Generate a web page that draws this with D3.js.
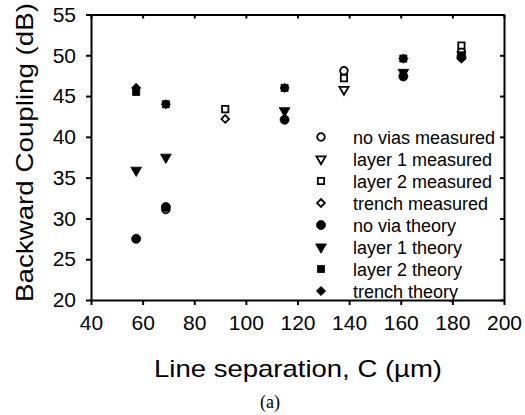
<!DOCTYPE html>
<html>
<head>
<meta charset="utf-8">
<script src="https://cdn.jsdelivr.net/npm/d3@7"></script>
<style>
  body { margin: 0; background: #fff; }
  text { font-family: "Liberation Sans", Arial, sans-serif; fill: #000; }
</style>
</head>
<body>
<div id="chart"></div>
<script>
// Define the layout of the SVG
const DIMENSIONS = {
  width: 525,
  height: 415,
  margin: {top: 14.5, right: 21, bottom: 115, left: 91}
}

// Axis ticks
const xTicks = [40, 60, 80, 100, 120, 140, 160, 180, 200];
const yTicks = [20, 25, 30, 35, 40, 45, 50, 55];

// Series values: [line separation (um), backward coupling (dB)]
const noViasMeasured = [[69, 31.1], [138, 48.1], [183.5, 50.4]];
const layer1Measured = [[138, 45.8]];
const layer2Measured = [[92, 43.4], [138, 47.2], [183.5, 51.2]];
const trenchMeasured = [[92, 42.2]];
const noViaTheory = [[57.5, 27.5], [69, 31.4], [115, 42.1], [161, 47.4], [183.5, 49.8]];
const layer1Theory = [[57.5, 35.9], [69, 37.5], [115, 43.2], [161, 47.9]];
const layer2Theory = [[57.5, 45.5], [69, 44.0], [115, 46.0], [161, 49.6], [183.5, 50.0]];
const trenchTheory = [[57.5, 46.0], [69, 44.0], [115, 46.0], [161, 49.6], [183.5, 49.6]];

// Legend labels, in legend order
const seriesNames = [
  "no vias measured", "layer 1 measured", "layer 2 measured", "trench measured",
  "no via theory", "layer 1 theory", "layer 2 theory", "trench theory"
];
const seriesData = [
  noViasMeasured, layer1Measured, layer2Measured, trenchMeasured,
  noViaTheory, layer1Theory, layer2Theory, trenchTheory
];

// marker shapes per series (circle, down triangle, square, diamond), open then filled
const shapes = ["circle", "triangle", "square", "diamond", "circle", "triangle", "square", "diamond"];

const symbolFor = (shape, open) => {
  if (shape === "circle") return {path: d3.symbol(d3.symbolCircle, open ? 46 : 64)(), rot: 0};
  if (shape === "triangle") return {path: d3.symbol(d3.symbolTriangle, open ? 36 : 50)(), rot: 180};
  if (shape === "square") return {path: d3.symbol(d3.symbolSquare, open ? 40 : 50)(), rot: 0};
  return {path: d3.symbol(d3.symbolSquare, open ? 30 : 42)(), rot: 45};
}

const W = DIMENSIONS.width, H = DIMENSIONS.height, M = DIMENSIONS.margin;
const plotRight = W - M.right;
const plotBottom = H - M.bottom;

const svg = d3.select("#chart")
  .append("svg")
  .attr("width", W)
  .attr("height", H);

const x = d3.scaleLinear()
  .domain([40, 200])
  .range([M.left, plotRight]);

const y = d3.scaleLinear()
  .domain([20, 55])
  .range([plotBottom, M.top]);

// top and right frame with inward ticks
svg.append("g")
  .attr("transform", `translate(0,${M.top})`)
  .call(d3.axisTop(x).tickValues(xTicks).tickSize(-4).tickSizeOuter(0).tickFormat(""));

svg.append("g")
  .attr("transform", `translate(${plotRight},0)`)
  .call(d3.axisRight(y).tickValues(yTicks).tickSize(-4).tickSizeOuter(0).tickFormat(""));

// bottom and left axes with outward ticks
svg.append("g")
  .attr("transform", `translate(0,${plotBottom})`)
  .call(d3.axisBottom(x).tickValues(xTicks).tickSize(5).tickSizeOuter(0).tickPadding(10));

svg.append("g")
  .attr("transform", `translate(${M.left},0)`)
  .call(d3.axisLeft(y).tickValues(yTicks).tickSize(5).tickSizeOuter(0).tickPadding(10));

svg.selectAll(".domain, .tick line")
  .attr("stroke", "#000")
  .attr("stroke-width", 2);

svg.selectAll(".tick text")
  .attr("font-size", "21px")
  .attr("font-family", "'Liberation Sans', Arial, sans-serif")
  .attr("fill", "#000");

// Add axis labels
svg.append("text")
  .attr("x", 298)
  .attr("y", 377)
  .attr("text-anchor", "middle")
  .attr("font-size", "24px")
  .attr("textLength", 288)
  .attr("lengthAdjust", "spacingAndGlyphs")
  .text("Line separation, C (\u00b5m)");

svg.append("text")
  .attr("transform", "translate(33,152.5) rotate(-90)")
  .attr("text-anchor", "middle")
  .attr("font-size", "24px")
  .attr("textLength", 299)
  .attr("lengthAdjust", "spacingAndGlyphs")
  .text("Backward Coupling (dB)");

svg.append("text")
  .attr("x", 270)
  .attr("y", 408)
  .attr("text-anchor", "middle")
  .attr("font-size", "18px")
  .style("font-family", "'Liberation Serif', 'Times New Roman', serif")
  .text("(a)");

// points: measured first, theory drawn on top
seriesData.forEach((series, i) => {
  const open = i < 4;
  const sym = symbolFor(shapes[i], open);
  svg.append("g")
    .selectAll("path")
    .data(series)
    .join("path")
    .attr("d", sym.path)
    .attr("transform", d => `translate(${x(d[0])},${y(d[1])}) rotate(${sym.rot})`)
    .attr("fill", open ? "#fff" : "#000")
    .attr("stroke", "#000")
    .attr("stroke-width", open ? 1.8 : 0.8);
});

// legend
const legend = svg.append("g");
seriesNames.forEach((name, i) => {
  const open = i < 4;
  const sym = symbolFor(shapes[i], open);
  const cy = 137 + i * 22;
  legend.append("path")
    .attr("d", sym.path)
    .attr("transform", `translate(321,${cy}) rotate(${sym.rot})`)
    .attr("fill", open ? "#fff" : "#000")
    .attr("stroke", "#000")
    .attr("stroke-width", open ? 1.8 : 0.8);
  legend.append("text")
    .attr("x", 353)
    .attr("y", cy + 6.5)
    .attr("font-size", "18px")
    .text(name);
});
</script>
</body>
</html>
